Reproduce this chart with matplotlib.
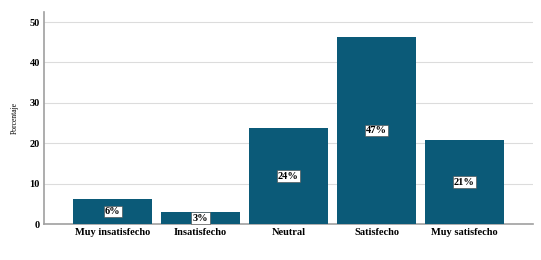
import matplotlib
matplotlib.use('Agg')
import matplotlib.pyplot as plt

categories = ['Muy insatisfecho', 'Insatisfecho', 'Neutral', 'Satisfecho', 'Muy satisfecho']
values = [6.2, 2.9, 23.7, 46.4, 20.8]
labels = ['6%', '3%', '24%', '47%', '21%']

plt.rcParams['font.family'] = ['Liberation Serif', 'DejaVu Serif']

fig = plt.figure(figsize=(5.41, 2.6), dpi=100)
ax = fig.add_axes([44/541, 1 - 224/260, (533-44)/541, (224-12)/260])

bars = ax.bar(range(len(categories)), values, width=0.9, color='#0b5a78', zorder=3)
for b, lab in zip(bars, labels):
    ax.text(b.get_x() + b.get_width()/2, b.get_height()/2, lab, ha='center', va='center',
            fontsize=7.5, fontweight='bold', color='black', zorder=4,
            bbox=dict(boxstyle='square,pad=0.12', fc='white', ec='#444444', lw=0.4))

ax.set_xlim(-0.78, 4.78)
ax.set_ylim(0, 52.5)
ax.set_yticks([0, 10, 20, 30, 40, 50])
ax.set_xticks(range(len(categories)))
ax.set_xticklabels(categories, fontsize=7.5, fontweight='bold')
for t in ax.get_yticklabels():
    t.set_fontsize(7.5)
    t.set_fontweight('bold')
ax.tick_params(length=0, pad=3)
ax.set_ylabel('Porcentaje', fontsize=5.5, labelpad=8)

ax.grid(axis='y', color='#dcdcdc', linewidth=0.8, zorder=0)
for s in ['top', 'right']:
    ax.spines[s].set_visible(False)
for s in ['left', 'bottom']:
    ax.spines[s].set_color('#a0a0a0')
    ax.spines[s].set_linewidth(1.2)

fig.savefig('out.png', dpi=100)
